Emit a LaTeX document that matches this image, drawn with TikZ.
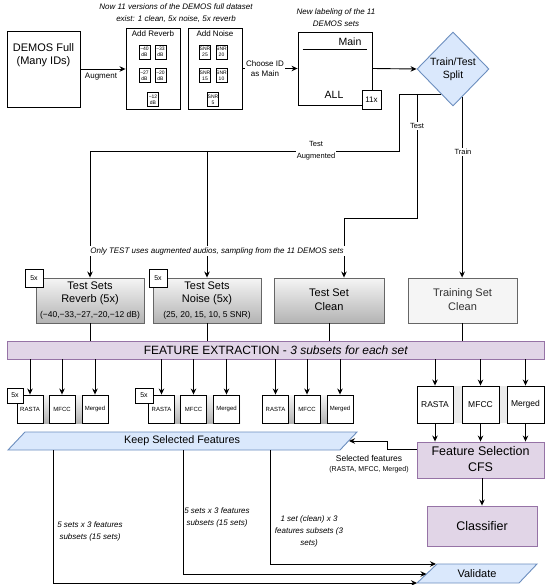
\documentclass[tikz,border=0pt]{standalone}
\usepackage{fontspec}
\setmainfont{Liberation Sans}
\usetikzlibrary{arrows.meta,shapes.geometric,calc}
\definecolor{blueF}{HTML}{DAE8FC}
\definecolor{blueD}{HTML}{6C8EBF}
\definecolor{purpF}{HTML}{E1D5E7}
\definecolor{purpD}{HTML}{9673A6}
\definecolor{grayL}{HTML}{F5F5F5}
\definecolor{grayM}{HTML}{B3B3B3}
\definecolor{grayD}{HTML}{666666}
\definecolor{grayT}{HTML}{333333}
\begin{document}
\begin{tikzpicture}[x=1pt,y=-1pt,line width=0.9pt,
  box/.style={draw,rectangle,inner sep=0pt},
  arr/.style={-{Stealth[length=6pt,width=5.5pt]}},
  f12/.style={font=\fontsize{12}{14}\selectfont},
  f125/.style={font=\fontsize{12.5}{15.5}\selectfont},
  f11/.style={font=\fontsize{11}{13.5}\selectfont},
  f105/.style={font=\fontsize{10.5}{13}\selectfont},
  f85/.style={font=\fontsize{8.5}{10}\selectfont},
  f8/.style={font=\fontsize{8}{10}\selectfont},
  f75/.style={font=\fontsize{7.5}{12}\selectfont},
  f7/.style={font=\fontsize{7}{8.5}\selectfont},
  f6/.style={font=\fontsize{6}{7}\selectfont},
  it8/.style={font=\itshape\fontsize{8}{12}\selectfont},
  tinybox/.style={draw,inner sep=0pt,minimum width=11pt,minimum height=14pt,align=center,font=\fontsize{5}{5.8}\selectfont},
  grad/.style={draw=grayD,top color=grayL,bottom color=grayM,inner sep=0pt,minimum height=45pt},
  fbox/.style={draw,fill=white,inner sep=0pt,minimum width=26pt,minimum height=28pt,font=\fontsize{6}{7}\selectfont},
  tbox/.style={draw,fill=white,inner sep=0pt,minimum height=37pt,font=\fontsize{8.5}{10}\selectfont},
  gbg/.style={top color=grayL,bottom color=grayM,inner sep=0pt,minimum height=28pt},
  purp/.style={draw=purpD,fill=purpF,inner sep=0pt},
  lab/.style={fill=white,inner sep=1pt,align=center}
]
\useasboundingbox (0,0) rectangle (550,585);

% ---- top row
\node[box,minimum width=73pt,minimum height=76pt] (demos) at (43.5,69) {};
\node[f11,align=center] (demost) at (43.5,55) {DEMOS Full\\(Many IDs)};

\node[box,minimum width=54pt,minimum height=81pt] (reverb) at (153,68.5) {};
\node[f8] (revt) at (153,34) {Add Reverb};
\node[tinybox] (r1) at (144.5,52) {−40\\dB};
\node[tinybox] (r2) at (160.5,52) {−33\\dB};
\node[tinybox] (r3) at (144.5,75.5) {−27\\dB};
\node[tinybox] (r4) at (160.5,75.5) {−20\\dB};
\node[tinybox] (r5) at (153,99.5) {−12\\dB};

\node[box,minimum width=54pt,minimum height=81pt] (noise) at (215,68.5) {};
\node[f8] (noit) at (215,34) {Add Noise};
\node[tinybox] (n1) at (205,52) {SNR\\25};
\node[tinybox] (n2) at (221.5,52) {SNR\\20};
\node[tinybox] (n3) at (205,75.5) {SNR\\15};
\node[tinybox] (n4) at (221.5,75.5) {SNR\\10};
\node[tinybox] (n5) at (213,99.5) {SNR\\5};

\node[it8,align=center] (cap1) at (176,13) {Now 11 versions of the DEMOS full dataset\\exist: 1 clean, 5x noise, 5x reverb};

\node[box,minimum width=74pt,minimum height=73pt] (main) at (335,68.5) {};
\draw ([shift={(5,18)}]main.north west) -- ([shift={(-5,18)}]main.north east);
\node[f105] (maint) at (350,42) {Main};
\node[f105] (allt) at (334,95) {ALL};
\node[box,fill=white,minimum width=19pt,minimum height=19pt,f8] (elevenx) at (371.5,99.5) {11x};
\node[it8,align=center] (cap2) at (336,18) {New labeling of the 11\\DEMOS sets};

\node[diamond,draw=blueD,fill=blueF,minimum width=72pt,minimum height=74pt,inner sep=0pt] (split) at (453,69) {};
\node[f105,align=center] (splitt) at (453,69) {Train/Test\\Split};

\draw[arr] (demos.east) -- (reverb.west |- demos.east);
\node[f8] (augl) at (101,77) {Augment};
\draw[arr] (noise.east) -- (main.west);
\node[f8,lab] (choosel) at (265,68.5) {Choose ID\\as Main};
\draw[arr] (main.east) -- (split.west);

% ---- second row boxes
\node[grad,minimum width=108pt] (tsr) at (90,300.5) {};
\node[f11,align=center] (tsrt) at (90,293.5) {Test Sets\\Reverb (5x)};
\node[f85] (tsrs) at (90,315) {(−40,−33,−27,−20,−12 dB)};
\node[box,fill=white,minimum width=18pt,minimum height=18pt,f7] (fx1) at (34,278) {5x};

\node[grad,minimum width=108pt] (tsn) at (207,300.5) {};
\node[f11,align=center] (tsnt) at (207,293.5) {Test Sets\\Noise (5x)};
\node[f85] (tsns) at (207,315) {(25, 20, 15, 10, 5 SNR)};
\node[box,fill=white,minimum width=18pt,minimum height=18pt,f7] (fx2) at (158,278) {5x};

\node[grad,minimum width=110pt] (tsc) at (329,300.5) {};
\node[f11,align=center] (tsct) at (329,299.5) {Test Set\\Clean};

\node[draw=grayD,fill=grayL,inner sep=0pt,minimum width=109pt,minimum height=45pt] (tst) at (462.5,300.5) {};
\node[f11,align=center,text=grayT] (tstt) at (462.5,299.5) {Training Set\\Clean};

% ---- split connectors
\coordinate (sl) at ($(split.west)!0.676!(split.south)$);
\coordinate (sr) at ($(split.south)!0.25!(split.east)$);
\coordinate (tj) at (417,94);
\coordinate (hy) at (0,151);
\coordinate (tcx) at (344,218);
\draw[arr] (sl) -| (399,151) -| (tsr.north);
\draw[arr] (tsn.north |- hy) -- (tsn.north);
\draw[arr] (tj) |- (tcx) -- (tcx |- tsc.north);
\draw[arr] (sr) -- (sr |- tst.north);
\node[f75,lab] (ltaug) at (316,151) {Test\\Augmented};
\node[f75,lab] (ltest) at (417,126) {Test};
\node[f75,lab] (ltrain) at (463,152) {Train};
\node[it8,lab] (cap3) at (217,251) {Only TEST uses augmented audios, sampling from the 11 DEMOS sets};

% ---- feature extraction bar
\node[purp,minimum width=537pt,minimum height=18pt] (fe) at (275.5,350) {};
\node[f12] (fet) at (276,350) {FEATURE EXTRACTION - \textit{3 subsets for each set}};
\draw (tsr.south) -- (tsr.south |- fe.north);
\draw (tsn.south) -- (tsn.south |- fe.north);
\draw (tsc.south) -- (tsc.south |- fe.north);
\draw (tst.south) -- (tst.south |- fe.north);

% ---- feature groups
\node[gbg,minimum width=91pt] (g1) at (62.5,409) {};
\node[fbox] (a1) at (30,409) {RASTA};
\node[fbox] (a2) at (62,409) {MFCC};
\node[fbox] (a3) at (95,409) {Merged};
\node[gbg,minimum width=91pt] (g2) at (194.5,409) {};
\node[fbox] (b1) at (161.5,409) {RASTA};
\node[fbox] (b2) at (193.5,409) {MFCC};
\node[fbox] (b3) at (226.5,409) {Merged};
\node[gbg,minimum width=90pt] (g3) at (308,409) {};
\node[fbox] (c1) at (275.5,409) {RASTA};
\node[fbox] (c2) at (307,409) {MFCC};
\node[fbox] (c3) at (340,409) {Merged};
\node[fill=black!8,inner sep=0pt,minimum width=127pt,minimum height=37pt] (g4) at (480.5,404.5) {};
\node[tbox,minimum width=36pt] (d1) at (435,404.5) {RASTA};
\node[tbox,minimum width=37pt] (d2) at (480.5,404.5) {MFCC};
\node[tbox,minimum width=37pt] (d3) at (525.5,404.5) {Merged};
\foreach \n in {a1,a2,a3,b1,b2,b3,c1,c2,c3,d1,d2,d3}
  \draw[arr] (\n.north |- fe.south) -- (\n.north);
\node[box,fill=white,minimum width=16pt,minimum height=15pt,f7] (fx3) at (15,395.5) {5x};
\node[box,fill=white,minimum width=18pt,minimum height=15pt,f7] (fx4) at (144,395.5) {5x};

% ---- feature selection, classifier
\node[purp,minimum width=127pt,minimum height=36pt] (fs) at (480.5,460) {};
\node[f125,align=center] (fst) at (480.5,459) {Feature Selection\\CFS};
\foreach \n in {d1,d2,d3}
  \draw[arr] (\n.south) -- (\n.south |- fs.north);
\node[purp,minimum width=110pt,minimum height=40pt,f125] (cls) at (482,526) {Classifier};
\draw[arr] (cls.north |- fs.south) -- (cls.north);

% ---- keep selected features
\coordinate (k1) at (8,450);
\coordinate (k2) at (25,432);
\coordinate (k3) at (357,432);
\coordinate (k4) at (340,450);
\draw[draw=blueD,fill=blueF] (k1) -- (k2) -- (k3) -- (k4) -- cycle;
\node[font=\fontsize{10.8}{13}\selectfont] (keep) at (182,441) {Keep Selected Features};
\coordinate (kr) at (349,441);
\draw[arr] ([yshift=-8pt]fs.north west) -| (387,441) -- (kr);
\node[f85] (sf1) at (369,458) {Selected features};
\node[f7] (sf2) at (369,470) {(RASTA, MFCC, Merged)};

% ---- validate
\coordinate (v1) at (417,583);
\coordinate (v2) at (437,564);
\coordinate (v3) at (537,564);
\coordinate (v4) at (519,583);
\draw[draw=blueD,fill=blueF] (v1) -- (v2) -- (v3) -- (v4) -- cycle;
\node[f11] (val) at (477,574) {Validate};
\coordinate (kb1) at (53,450);
\coordinate (kb2) at (183,450);
\coordinate (kb3) at (270,450);
\coordinate (va1) at (417,583);
\coordinate (va2) at (426.5,574);
\coordinate (va3) at (436,564);
\draw[arr] (kb1) |- (va1);
\draw[arr] (kb2) |- (va2);
\draw[arr] (kb3) |- (va3);
\node[it8,align=center] (lb1) at (90,531) {5 sets x 3 features\\subsets (15 sets)};
\node[it8,align=center] (lb2) at (217,517) {5 sets x 3 features\\subsets (15 sets)};
\node[it8,align=center] (lb3) at (309,531) {1 set (clean) x 3\\features subsets (3\\sets)};
\end{tikzpicture}
\end{document}
